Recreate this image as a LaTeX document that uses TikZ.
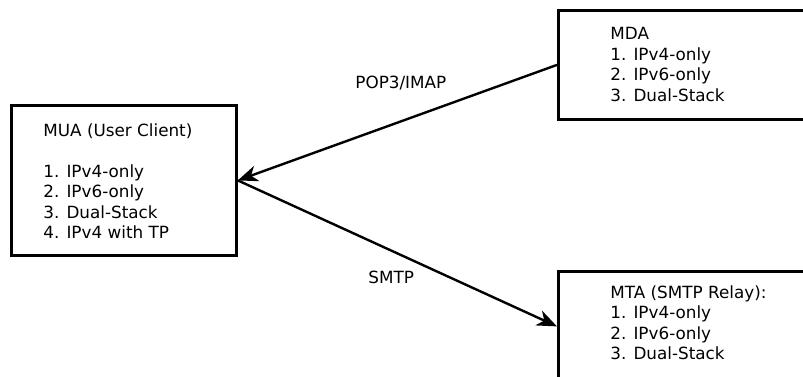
\documentclass[tikz,border=0pt]{standalone}
\usepackage{fontspec}
\setmainfont{DejaVu Sans}
\usetikzlibrary{arrows.meta}
\begin{document}
\begin{tikzpicture}[x=0.5pt,y=-0.5pt,
  hostbox/.style={draw=black, line width=1.4pt, rectangle, inner sep=0pt, anchor=north west},
  hosttext/.style={anchor=north west, inner sep=0pt, align=left,
    font=\fontsize{8.4}{10.25}\selectfont},
  proto/.style={anchor=base west, inner sep=0pt, font=\fontsize{8.4}{10.25}\selectfont},
  flow/.style={line width=1.2pt, -{Stealth[length=10pt,width=8pt,inset=3pt]}}]
  \useasboundingbox (0,0) rectangle (803,376);
  \clip (0,0) rectangle (803,376);

  % the three hosts
  \node[hostbox, minimum width=112.5pt, minimum height=75pt] (mua) at (10,104) {};
  \node[hostbox, minimum width=140pt, minimum height=54.5pt] (mda) at (557,9) {};
  \node[hostbox, minimum width=140pt, minimum height=55pt] (mta) at (557,270) {};

  \node[hosttext] (muatext) at ([shift={(33,19)}]mua.north west)
    {MUA (User Client)\\[10.25pt]1. IPv4-only\\2. IPv6-only\\3. Dual-Stack\\4. IPv4 with TP};
  \node[hosttext] (mdatext) at ([shift={(53,18)}]mda.north west)
    {MDA\\1. IPv4-only\\2. IPv6-only\\3. Dual-Stack};
  \node[hosttext] (mtatext) at ([shift={(53,15)}]mta.north west)
    {MTA (SMTP Relay):\\1. IPv4-only\\2. IPv6-only\\3. Dual-Stack};

  % mail flows between the hosts
  \draw[flow] (mda.west) -- (mua.east);
  \draw[flow] (mua.east) -- (mta.west);

  \node[proto] (pop) at (355,88) {POP3/IMAP};
  \node[proto] (smtp) at (368,283) {SMTP};
\end{tikzpicture}
\end{document}
